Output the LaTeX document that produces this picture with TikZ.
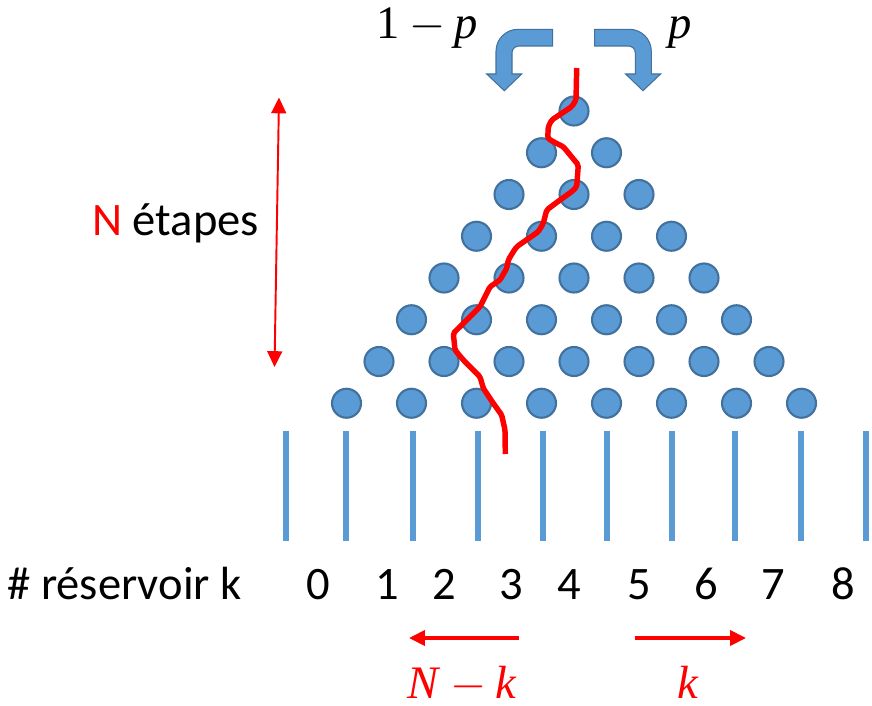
\RequirePackage{fix-cm}
\documentclass[tikz,border=0pt]{standalone}
\usepackage{fontspec}
\setmainfont{Carlito}
\newfontfamily\mathserif{Liberation Serif}
\usepackage{tikz}
\usetikzlibrary{arrows.meta}
\definecolor{pegblue}{HTML}{5B9BD5}
\definecolor{pegedge}{HTML}{41719C}
\newcommand{\minussign}{\hspace{0.2em}$-$\hspace{0.2em}}

\begin{document}
\begin{tikzpicture}[
  x=0.02cm, y=-0.02cm,
  txt/.style={inner sep=0pt, font=\fontsize{26.5}{32}\selectfont},
  mtxt/.style={txt, font=\fontsize{26.5}{32}\selectfont\mathserif},
  peg/.style={circle, fill=pegblue, draw=pegedge, line width=1.2pt, minimum size=0.58cm, inner sep=0pt},
  wall/.style={draw=pegblue, line width=3.4pt},
  turn/.style={fill=pegblue, draw=pegedge, line width=0.6pt},
  path/.style={draw=red, line width=3.1pt, line join=round, rounded corners=1pt},
  arr/.style={draw=red, line width=2pt, -{Triangle[length=9pt, width=8.5pt]}},
  span/.style={draw=red, line width=1.1pt, {Triangle[length=9pt, width=8.5pt]}-{Triangle[length=9pt, width=8.5pt]}}
]
\useasboundingbox (0,0) rectangle (872,706);

% choice at each peg
\node[mtxt, anchor=base] (leftprob) at (427.5,39) {1\minussign\textit{p}};
\node[mtxt, anchor=base] (rightprob) at (680.5,39) {\textit{p}};
\filldraw[turn] (552.7,29.3) -- (518,29.3) .. controls (506,29.3) and (496,39) .. (496,51.3) -- (496,74) -- (486.7,74) -- (504.3,90.7) -- (521.7,74) -- (512,74) -- (512,53) .. controls (512,49) and (515,46) .. (519,46) -- (552.7,46) -- cycle;
\filldraw[turn] (594.6,29.3) -- (629.3,29.3) .. controls (641.3,29.3) and (651.3,39) .. (651.3,51.3) -- (651.3,74) -- (660.6,74) -- (643,90.7) -- (625.6,74) -- (635.3,74) -- (635.3,53) .. controls (635.3,49) and (632.3,46) .. (628.3,46) -- (594.6,46) -- cycle;

% pegs
\foreach \r in {0,...,7}
  \foreach \i in {0,...,\r}
    \node[peg] (peg-\r-\i) at ({574+(\i-\r/2)*65}, {111+\r*41.75}) {};

% reservoirs
\foreach \x in {286,346,413,478,543,607,672,735,801,866}
  \draw[wall] (\x,430.7) -- (\x,540.7);

% one ball
\draw[path] (576.7,68) -- (576,100) -- (571.7,106.7) -- (551.7,120) -- (548.3,126.7) -- (547.7,138.3)
  -- (553.3,141.7) -- (563.3,146.7) -- (578.3,165) -- (576.7,186.7) -- (571.7,191.7) -- (560,200)
  -- (546.7,210) -- (543.3,223.3) -- (538.3,231.7) -- (516.7,246.7) -- (513.3,251.7) -- (508.3,260)
  -- (506.7,268.3) -- (500,280) -- (490,286.7) -- (485,296.7) -- (480,306.7) -- (466.7,320)
  -- (453.3,333.3) -- (455,350) -- (463.3,360) -- (480,376.7) -- (483.3,388.3) -- (493.3,403.3)
  -- (501.7,415) -- (505,430) -- (505.3,454);

% number of steps
\coordinate (stepstop) at (279,97.5);
\coordinate (stepsbot) at (274.5,367);
\draw[span] (stepstop) -- (stepsbot);
\node[txt, anchor=base west] (steps) at (92,235) {\textcolor{red}{N} étapes};

% reservoir labels
\node[txt, anchor=base west] (reslabel) at (7,599) {\# réservoir k};
\foreach \k/\x in {0/318,1/387,2/444,3/511,4/569,5/639,6/706,7/773,8/843}
  \node[txt, anchor=base] (bin\k) at (\x,599) {\k};

% left and right moves
\coordinate (leftstart) at (519,638);
\coordinate (leftend) at (409,638);
\coordinate (rightstart) at (635,638);
\coordinate (rightend) at (746,638);
\draw[arr] (leftstart) -- (leftend);
\draw[arr] (rightstart) -- (rightend);
\node[mtxt, anchor=base, text=red] (leftcount) at (462.5,698) {\textit{N}\minussign\textit{k}};
\node[mtxt, anchor=base, text=red] (rightcount) at (688,698) {\textit{k}};
\end{tikzpicture}
\end{document}
